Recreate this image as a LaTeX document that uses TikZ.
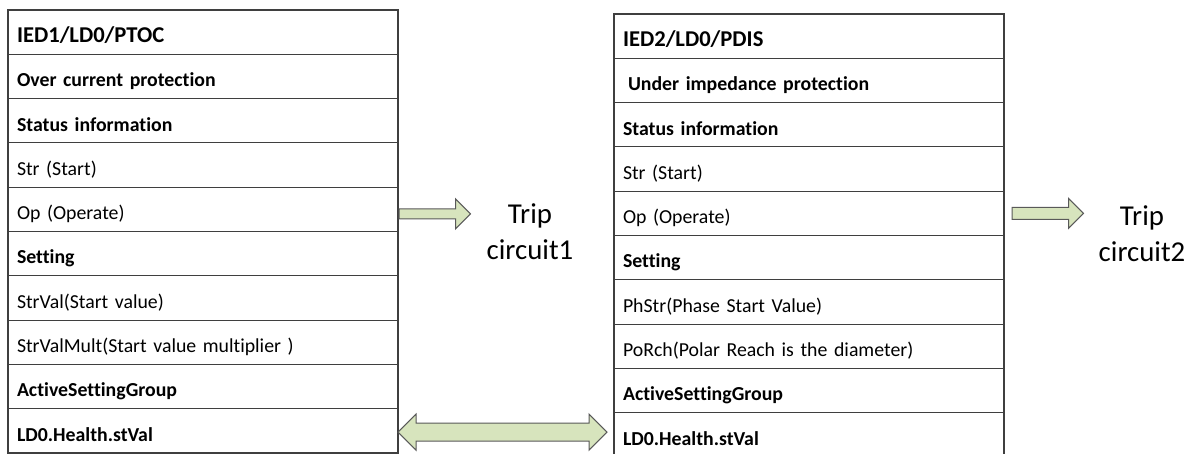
\documentclass[tikz,border=0pt]{standalone}
\usepackage{fontspec}
\setmainfont{Carlito}[Ligatures={NoCommon}, WordSpace=0.85]
\usetikzlibrary{calc,positioning}

\definecolor{rowline}{HTML}{3F3F3F}
\definecolor{arrowfill}{HTML}{D7E4BD}
\definecolor{arrowline}{HTML}{595959}

% block arrow pointing right: start, tip, half shaft, half head, head length
\newcommand{\rightblock}[5]{%
  \draw[blockarrow] ($(#1)+(0,-#3)$) -- ($(#2)+(-#5,-#3)$) -- ($(#2)+(-#5,-#4)$)
    -- (#2) -- ($(#2)+(-#5,#4)$) -- ($(#2)+(-#5,#3)$) -- ($(#1)+(0,#3)$) -- cycle;}
% block arrow with heads at both ends
\newcommand{\bothblock}[5]{%
  \draw[blockarrow] (#1) -- ($(#1)+(#5,-#4)$) -- ($(#1)+(#5,-#3)$)
    -- ($(#2)+(-#5,-#3)$) -- ($(#2)+(-#5,-#4)$) -- (#2)
    -- ($(#2)+(-#5,#4)$) -- ($(#2)+(-#5,#3)$) -- ($(#1)+(#5,#3)$)
    -- ($(#1)+(#5,#4)$) -- cycle;}

\begin{document}
\begin{tikzpicture}[x=1pt,y=-1pt,
  cell/.style={draw=rowline, line width=1.1pt, minimum width=390pt,
    text width=372pt, inner xsep=9pt, inner ysep=0pt,
    text height=32.5pt, text depth=11.8pt, outer sep=0pt, align=left,
    anchor=north west, font=\fontsize{19.8}{24}\selectfont},
  titlecell/.style={cell, font=\fontsize{22.6}{28}\selectfont\bfseries},
  boldcell/.style={cell, font=\fontsize{19.8}{24}\selectfont\bfseries},
  trip/.style={align=center, inner sep=0pt,
    font=\fontsize{28.8}{36}\selectfont},
  blockarrow/.style={draw=arrowline, fill=arrowfill, line width=1pt,
    line join=miter}]

\useasboundingbox (0,0) rectangle (1195,454);

% IED1 logical node
\node[titlecell] (l1) at (8,10) {IED1/LD0/PTOC};
\node[boldcell, below=0pt of l1] (l2) {Over current protection};
\node[boldcell, below=0pt of l2] (l3) {Status information};
\node[cell, below=0pt of l3] (l4) {Str (Start)};
\node[cell, below=0pt of l4] (l5) {Op (Operate)};
\node[boldcell, below=0pt of l5] (l6) {Setting};
\node[cell, below=0pt of l6] (l7) {StrVal(Start value)};
\node[cell, below=0pt of l7] (l8) {StrValMult(Start value multiplier )};
\node[boldcell, below=0pt of l8] (l9) {ActiveSettingGroup};
\node[boldcell, below=0pt of l9] (l10) {LD0.Health.stVal};

% IED2 logical node
\node[titlecell] (r1) at (614,14) {IED2/LD0/PDIS};
\node[boldcell, below=0pt of r1] (r2) {\hspace*{5pt}Under impedance protection};
\node[boldcell, below=0pt of r2] (r3) {Status information};
\node[cell, below=0pt of r3] (r4) {Str (Start)};
\node[cell, below=0pt of r4] (r5) {Op (Operate)};
\node[boldcell, below=0pt of r5] (r6) {Setting};
\node[cell, below=0pt of r6] (r7) {PhStr(Phase Start Value)};
\node[cell, below=0pt of r7] (r8) {PoRch(Polar Reach is the diameter)};
\node[boldcell, below=0pt of r8] (r9) {ActiveSettingGroup};
\node[boldcell, below=0pt of r9] (r10) {LD0.Health.stVal};

% trip outputs
\node[trip] (trip1) at (530,231.5) {Trip\\circuit1};
\node[trip] (trip2) at (1142,233.5) {Trip\\circuit2};

% operate signals to the trip circuits
\coordinate (a1s) at ($(l5.east)+(1,4.5)$);
\coordinate (a1t) at ($(trip1.west |- a1s)+(-16,0)$);
\rightblock{a1s}{a1t}{5}{15}{15}

\coordinate (a2s) at ($(r5.east)+(8,0)$);
\coordinate (a2t) at ($(trip2.west |- a2s)+(-15,0)$);
\rightblock{a2s}{a2t}{6}{15}{15}

% health status exchange between the two devices
\coordinate (hs) at ($(l10.east)+(0,1.2)$);
\coordinate (ht) at ($(r10.west |- hs)+(-7,0)$);
\bothblock{hs}{ht}{9}{18}{18}

\end{tikzpicture}
\end{document}
